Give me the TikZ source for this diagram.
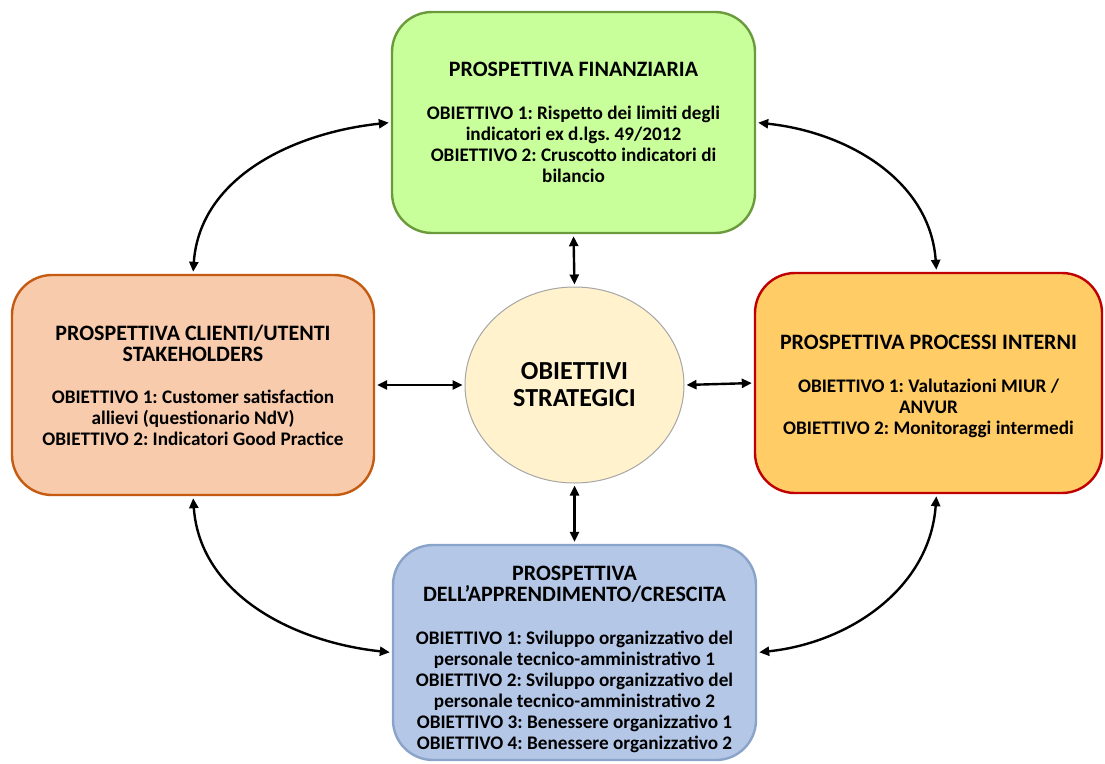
\documentclass[tikz,border=0pt]{standalone}
\usepackage{fontspec}
\setmainfont{Carlito}
\usepackage{xcolor}
\usetikzlibrary{shapes, arrows.meta, calc}

\definecolor{finfill}{HTML}{C9FF9B}
\definecolor{findraw}{HTML}{6A9A3C}
\definecolor{clifill}{HTML}{F8CBAD}
\definecolor{clidraw}{HTML}{C55A11}
\definecolor{profill}{HTML}{FFCC66}
\definecolor{prodraw}{HTML}{C00000}
\definecolor{appfill}{HTML}{B4C7E7}
\definecolor{appdraw}{HTML}{8AA3C8}
\definecolor{obsfill}{HTML}{FFF2CC}
\definecolor{obsdraw}{HTML}{A6A6A6}

\newcommand{\ttl}{\fontsize{22}{25}\selectfont}
\frenchspacing

\begin{document}
\begin{tikzpicture}%
	[x=1pt, y=-1pt,
	font=\bfseries\fontsize{19.2}{21}\selectfont,
	box/.style={rounded corners=40pt, line width=2.4pt, align=center, inner sep=0pt},
	centre/.style={ellipse, draw=obsdraw, fill=obsfill, line width=1pt, minimum width=219pt, minimum height=196pt, inner sep=0pt, align=center, font=\bfseries\fontsize{26}{27}\selectfont},
	link/.style={line width=2.4pt, {Triangle[length=10pt,width=9pt]}-{Triangle[length=10pt,width=9pt]}, shorten <=2pt, shorten >=2pt}]
%
\useasboundingbox (0,0) rectangle (1105,763);
%
%% The four perspectives
%%
\node[box, draw=findraw, fill=finfill, minimum width=363pt, minimum height=221pt] (fin) at (573.5,122.5)
	{{\ttl PROSPETTIVA FINANZIARIA}\\[22pt]
	OBIETTIVO 1: Rispetto dei limiti degli\\
	indicatori ex d.lgs. 49/2012\\
	OBIETTIVO 2: Cruscotto indicatori di\\
	bilancio};
\node[box, draw=clidraw, fill=clifill, minimum width=362pt, minimum height=220pt] (cli) at (193,385)
	{{\ttl PROSPETTIVA CLIENTI/UTENTI}\\
	{\ttl STAKEHOLDERS}\\[21pt]
	OBIETTIVO 1: Customer satisfaction\\
	allievi (questionario NdV)\\
	OBIETTIVO 2: Indicatori Good Practice};
\node[box, draw=prodraw, fill=profill, minimum width=347pt, minimum height=220pt] (pro) at (928.5,383)
	{{\ttl\rule{0pt}{22pt}PROSPETTIVA PROCESSI INTERNI}\\[22pt]
	OBIETTIVO 1: Valutazioni MIUR /\\
	ANVUR\\
	OBIETTIVO 2: Monitoraggi intermedi};
\node[box, draw=appdraw, fill=appfill, minimum width=363pt, minimum height=215pt] (app) at (574.5,652.5)
	{{\ttl\rule{0pt}{28pt}PROSPETTIVA}\\
	{\ttl DELL’APPRENDIMENTO/CRESCITA}\\[22pt]
	OBIETTIVO 1: Sviluppo organizzativo del\\
	personale tecnico-amministrativo 1\\
	OBIETTIVO 2: Sviluppo organizzativo del\\
	personale tecnico-amministrativo 2\\
	OBIETTIVO 3: Benessere organizzativo 1\\
	OBIETTIVO 4: Benessere organizzativo 2};
%%
%% The strategic objectives in the middle
%%
\node[centre] (obs) at (574.5,385) {OBIETTIVI\\STRATEGICI};
%%
%% Straight links to the centre
%%
\draw[link] (fin.south) -- (obs.north);
\draw[link] (obs.south) -- (app.north);
\draw[link] (cli.east) -- (obs.west);
\draw[link] (obs.east) -- (pro.west);
%%
%% Curved links between the perspectives
%%
\draw[link] (cli.north) to[out=86, in=186] (fin.west);
\draw[link] (fin.east) to[out=-6, in=94] ($(pro.north)+(8,0)$);
\draw[link] ($(pro.south)+(8,0)$) to[out=-94, in=6] (app.east);
\draw[link] (app.west) to[out=174, in=-86] (cli.south);
%%
\end{tikzpicture}
\end{document}
